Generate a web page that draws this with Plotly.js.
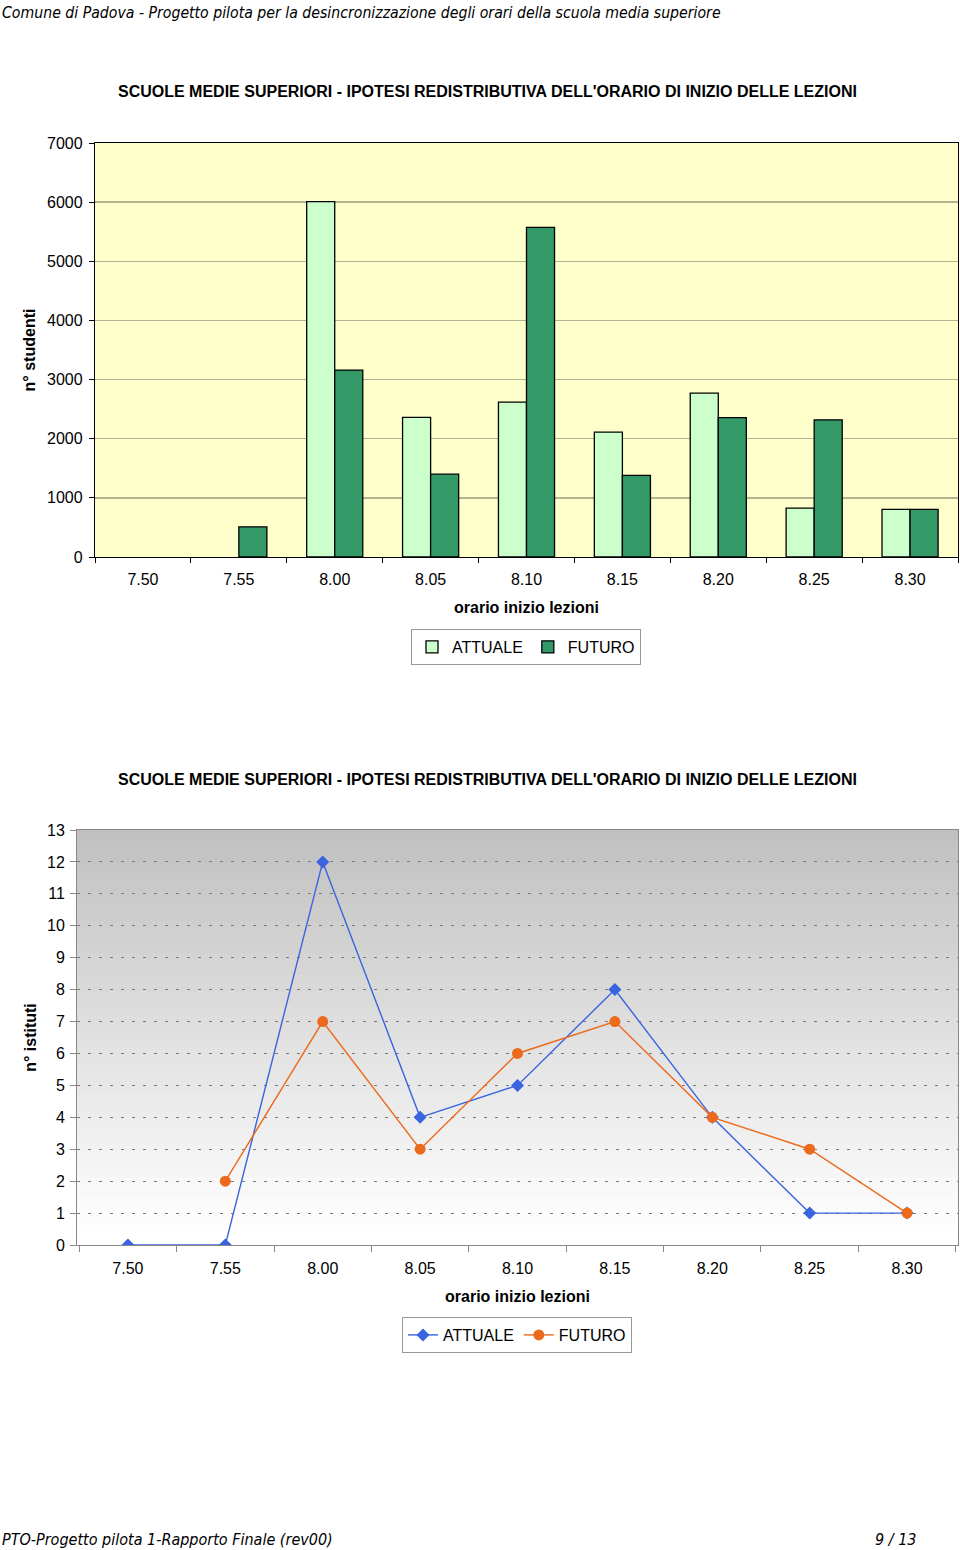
<!DOCTYPE html>
<html>
<head>
<meta charset="utf-8">
<script src="https://cdn.plot.ly/plotly-3.0.1.min.js"></script>
<style>
html,body{margin:0;padding:0;background:#fff;}
#chart{width:960px;height:1550px;}
</style>
</head>
<body>
<div id="chart"></div>
<script>
// ---- data ----
const categories = ['7.50','7.55','8.00','8.05','8.10','8.15','8.20','8.25','8.30'];
const studentiAttuale = [null, null, 6010, 2360, 2620, 2110, 2770, 825, 805];
const studentiFuturo  = [null, 510, 3160, 1400, 5575, 1380, 2355, 2320, 805];
const istitutiAttuale = [0, 0, 12, 4, 5, 8, 4, 1, 1];
const istitutiFuturo  = [null, 2, 7, 3, 6, 7, 4, 3, 1];
const seriesNames = ['ATTUALE', 'FUTURO'];
const chartTitle = "SCUOLE MEDIE SUPERIORI - IPOTESI REDISTRIBUTIVA DELL'ORARIO DI INIZIO DELLE LEZIONI";
const xTitle = 'orario inizio lezioni';
const yTitle1 = 'n° studenti';
const yTitle2 = 'n° istituti';
const headerText = 'Comune di Padova - Progetto pilota per la desincronizzazione degli orari della scuola media superiore';
const footerText = 'PTO-Progetto pilota 1-Rapporto Finale (rev00)';
const pageText = '9 / 13';

// ---- layout helpers ----
const W = 960, H = 1550;
const px = x => x / W;
const py = y => 1 - y / H;
const FONT = 'Liberation Sans, Arial, sans-serif';
const NARROW = 'DejaVu Sans Condensed, DejaVu Sans, sans-serif';

const traces = [
  {type:'bar', x:categories, y:studentiAttuale, name:seriesNames[0], xaxis:'x', yaxis:'y', legend:'legend',
   marker:{color:'#ccffcc', line:{color:'#000', width:1.3}}},
  {type:'bar', x:categories, y:studentiFuturo, name:seriesNames[1], xaxis:'x', yaxis:'y', legend:'legend',
   marker:{color:'#339966', line:{color:'#000', width:1.3}}},
  {type:'scatter', mode:'lines+markers', x:categories, y:istitutiAttuale, name:seriesNames[0], xaxis:'x2', yaxis:'y2', legend:'legend2',
   line:{color:'#3a63e0', width:1.4}, marker:{symbol:'diamond', size:10, color:'#3a63e0'}},
  {type:'scatter', mode:'lines+markers', x:categories, y:istitutiFuturo, name:seriesNames[1], xaxis:'x2', yaxis:'y2', legend:'legend2',
   line:{color:'#ec6a1c', width:1.4}, marker:{symbol:'circle', size:11, color:'#ec6a1c'}}
];

// gradient background for the lower chart (decoration)
const shapes = [];
const N = 80;
for (let i = 0; i < N; i++) {
  const f0 = i / N, f1 = (i + 1) / N;
  const fm = (f0 + f1) / 2;
  const v = Math.round(255 - 63 * Math.min(1, Math.max(0, (fm - 0.03) / 0.97)));
  shapes.push({type:'rect', xref:'x2 domain', yref:'y2 domain', x0:0, x1:1, y0:f0, y1:f1 + 0.002,
               fillcolor:`rgb(${v},${v},${v})`, line:{width:0}, layer:'below'});
}

const tickFont = {family:FONT, size:16, color:'#000'};
const boldFont = {family:FONT, size:16, color:'#000', weight:'bold'};

const layout = {
  width:W, height:H,
  margin:{l:0, r:0, t:0, b:0},
  paper_bgcolor:'#fff',
  plot_bgcolor:'#ffffcc',
  showlegend:true,
  barmode:'group', bargap:0.415, bargroupgap:0,
  font:{family:FONT, color:'#000'},
  xaxis:{domain:[px(95), px(958)], anchor:'y', type:'category', tickson:'boundaries',
         ticks:'outside', ticklen:5, tickcolor:'#000', showline:true, linecolor:'#000', linewidth:1.2, mirror:true,
         showgrid:false, tickfont:tickFont, ticklabelstandoff:8, fixedrange:true,
         title:{text:xTitle, font:boldFont, standoff:14}},
  yaxis:{domain:[py(557), py(143)], anchor:'x', range:[0,7000], dtick:1000, tickformat:'d',
         ticks:'outside', ticklen:5, tickcolor:'#000', showline:true, linecolor:'#000', linewidth:1.2, mirror:true,
         showgrid:true, gridcolor:'#b3b393', gridwidth:1.3, zeroline:false, tickfont:tickFont, ticklabelstandoff:3,
         title:{text:yTitle1, font:boldFont, standoff:7}},
  xaxis2:{domain:[px(77), px(958)], anchor:'y2', type:'category', tickson:'boundaries',
          ticks:'outside', ticklen:6, tickcolor:'#888', showline:true, linecolor:'#888', linewidth:1, mirror:true,
          showgrid:false, tickfont:tickFont, ticklabelstandoff:9, fixedrange:true,
          title:{text:xTitle, font:boldFont, standoff:14}},
  yaxis2:{domain:[py(1245), py(830)], anchor:'x2', range:[0,13], dtick:1,
          ticks:'outside', ticklen:6, tickcolor:'#888', showline:true, linecolor:'#888', linewidth:1, mirror:true,
          showgrid:true, gridcolor:'#7a7a7a', gridwidth:1, griddash:'3px,8px', zeroline:false, tickfont:tickFont,
          ticklabelstandoff:2,
          title:{text:yTitle2, font:boldFont, standoff:6}},
  legend:{orientation:'h', x:px(526), xanchor:'center', y:py(629), yanchor:'top',
          bordercolor:'#999', borderwidth:1, bgcolor:'#fff', font:{family:FONT, size:16, color:'#000'},
          itemwidth:30, tracegroupgap:0},
  legend2:{orientation:'h', x:px(517), xanchor:'center', y:py(1317), yanchor:'top',
          bordercolor:'#999', borderwidth:1, bgcolor:'#fff', font:{family:FONT, size:16, color:'#000'},
          itemwidth:30},
  shapes:shapes,
  annotations:[
    {text:headerText, xref:'paper', yref:'paper', x:0, y:py(1), xanchor:'left', yanchor:'top', showarrow:false,
     font:{family:NARROW, size:15.7, style:'italic', color:'#000'}},
    {text:chartTitle, xref:'paper', yref:'paper', x:px(487), y:py(92), xanchor:'center', yanchor:'middle', showarrow:false,
     font:boldFont},
    {text:chartTitle, xref:'paper', yref:'paper', x:px(487), y:py(780), xanchor:'center', yanchor:'middle', showarrow:false,
     font:boldFont},
    {text:footerText, xref:'paper', yref:'paper', x:0, y:py(1539), xanchor:'left', yanchor:'middle', showarrow:false,
     font:{family:NARROW, size:16, style:'italic', color:'#000'}},
    {text:pageText, xref:'paper', yref:'paper', x:px(918), y:py(1539), xanchor:'right', yanchor:'middle', showarrow:false,
     font:{family:NARROW, size:16, style:'italic', color:'#000'}}
  ]
};

Plotly.newPlot('chart', traces, layout, {staticPlot:true, displayModeBar:false});
</script>
</body>
</html>
